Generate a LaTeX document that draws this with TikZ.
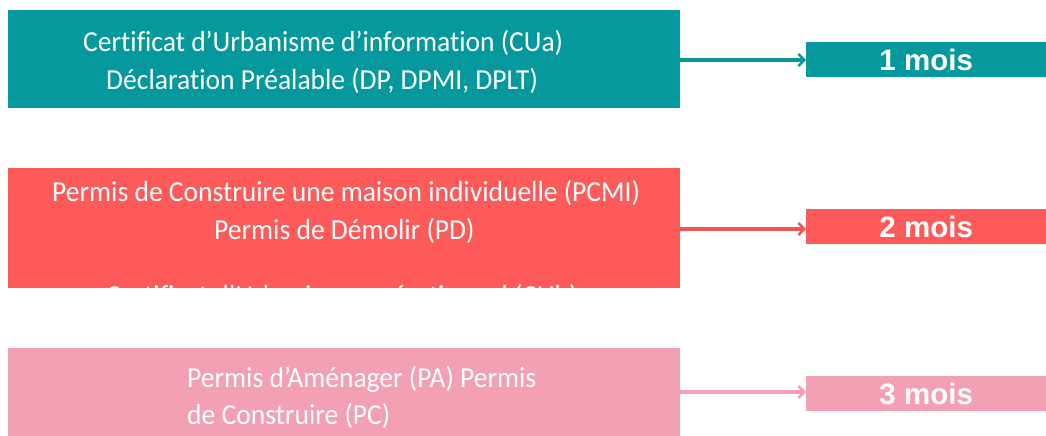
\documentclass[tikz,border=0pt]{standalone}
\usepackage{fontspec}
\setmainfont[Ligatures=CommonOff,FakeStretch=0.95]{Carlito}
\newfontfamily\arialb{Liberation Sans}
\usetikzlibrary{arrows.meta}
\definecolor{teal1}{HTML}{05999E}
\definecolor{red1}{HTML}{FF5A5A}
\definecolor{pink1}{HTML}{F4A0B4}
\tikzset{
  bigbox/.style={fill=#1, draw=none},
  txt/.style={text=white, font=\fontsize{29}{32}\selectfont, inner sep=0pt, anchor=base west},
  mois/.style={fill=#1, draw=none, text=white, font=\arialb\bfseries\fontsize{29.5}{32}\selectfont, minimum width=240pt, minimum height=35pt, inner sep=0pt, anchor=north west},
  conn/.style={draw=#1, line width=3.2pt, -{Straight Barb[length=6pt,width=12pt,line width=2.4pt]}}
}
\begin{document}
\begin{tikzpicture}[x=1pt,y=-1pt]
\useasboundingbox (0,0) rectangle (1046,436);
% boxes
\path[bigbox=teal1] (8,10) rectangle (680,108);
\coordinate (b1) at (680,60);
\path[bigbox=red1] (8,168) rectangle (680,288);
\coordinate (b2) at (680,229);
\path[bigbox=pink1] (8,348) rectangle (680,436);
\coordinate (b3) at (680,392);
% texts
\node[txt] (t11) at (83,52) {Certificat d’Urbanisme d’information (CUa)};
\node[txt] (t12) at (106,89) {Déclaration Préalable (DP, DPMI, DPLT)};
\node[txt] (t21) at (52,201) {Permis de Construire une maison individuelle (PCMI)};
\node[txt] (t22) at (214,239) {Permis de Démolir (PD)};
\begin{scope}
\clip (8,168) rectangle (680,288);
\node[txt] (t23) at (106,305) {Certificat d’Urbanisme opérationnel (CUb)};
\end{scope}
\node[txt] (t31) at (187,387) {Permis d’Aménager (PA) Permis};
\node[txt] (t32) at (187,424) {de Construire (PC)};
% mois
\node[mois=teal1] (m1) at (806,42) {1 mois};
\node[mois=red1] (m2) at (806,209) {2 mois};
\node[mois=pink1] (m3) at (806,376) {3 mois};
% arrows
\draw[conn=teal1] (b1) -- (m1.west |- b1);
\draw[conn=red1!95!black] (b2) -- (m2.west |- b2);
\draw[conn=pink1] (b3) -- (m3.west |- b3);
\end{tikzpicture}
\end{document}
